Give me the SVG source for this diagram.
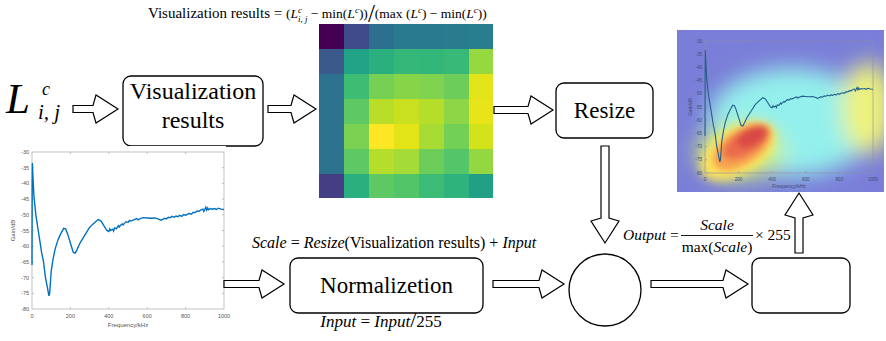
<svg xmlns="http://www.w3.org/2000/svg" width="886" height="341" viewBox="0 0 886 341">
<style>
  .it { font-style: italic; }
  .box { fill: #fff; stroke: #000; stroke-width: 1.3; }
  .arr { fill: #fff; stroke: #000; stroke-width: 1.2; stroke-linejoin: miter; }
  .ax { fill: none; stroke: #a8a8a8; stroke-width: 0.7; }
  .axr { fill: none; stroke: #8c8ca8; stroke-width: 0.6; }
</style>
<defs>
  <path id="curve" vector-effect="non-scaling-stroke" fill="none" d="M0,36 L1,10 L2,3.5 L5,8 L10,14 L20,20 L30,24 L40,28 L50,32 L60,35 L70,40 L80,43 L88,45.8 L92,45 L100,38 L110,34 L120,31 L135,28 L150,26 L165,24.3 L175,24.5 L185,26 L200,29 L215,32 L225,32.2 L235,31 L250,29 L275,26.5 L300,24 L325,22.5 L345,21.5 L360,22 L375,23.5 L390,25 L400,25.3 L405,24.5 L410,25 L420,24.6 L425,25.2 L430,24.2 L440,24.4 L450,23.5 L455,23.9 L460,23.4 L470,22.9 L475,23.2 L480,22.8 L490,22.2 L500,22.4 L508,21.8 L515,22 L530,21.6 L545,21.2 L552,21.6 L560,21.3 L580,20.9 L600,21 L620,21.1 L640,21 L660,21.4 L670,21.7 L680,21.5 L690,21.1 L700,21.3 L710,20.8 L720,20.9 L730,20.5 L740,20.8 L750,20.4 L760,20.6 L770,20.2 L780,20.5 L790,19.9 L800,20.2 L810,19.8 L820,19.6 L830,19.8 L840,19.2 L850,19.3 L860,18.8 L870,18.9 L880,18.4 L890,18.2 L895,18.9 L900,18.3 L905,17.6 L910,18.5 L915,17.8 L920,18.4 L930,18 L940,18.2 L950,18 L960,18.3 L970,17.9 L985,18.2 L1000,18.3"/>
  <filter id="blurBig" x="-50%" y="-50%" width="200%" height="200%"><feGaussianBlur stdDeviation="11"/></filter>
  <filter id="blurMid" x="-50%" y="-50%" width="200%" height="200%"><feGaussianBlur stdDeviation="5"/></filter>
  <filter id="blurSm" x="-50%" y="-50%" width="200%" height="200%"><feGaussianBlur stdDeviation="3"/></filter>
  <clipPath id="clipR"><rect x="677" y="30" width="207" height="162"/></clipPath>
</defs>

<!-- top formula -->
<g id="formula-top" font-family="'Liberation Serif', 'DejaVu Serif', serif" font-size="15" fill="#000">
  <text x="148" y="18">Visualization results = <tspan font-size="13.5">(</tspan><tspan class="it" font-size="13.5">L</tspan><tspan class="it" font-size="9" dy="-5.5">c</tspan><tspan class="it" font-size="9" dx="-4" dy="9">i, j</tspan><tspan font-size="13.5" dy="-3.5"> − min(</tspan><tspan class="it" font-size="13.5">L</tspan><tspan class="it" font-size="9" dy="-5.5">c</tspan><tspan font-size="13.5" dy="5.5">))</tspan><tspan font-size="25" dy="4">/</tspan><tspan font-size="13.5" dy="-4">(max (</tspan><tspan class="it" font-size="13.5">L</tspan><tspan class="it" font-size="9" dy="-5.5">c</tspan><tspan font-size="13.5" dy="5.5">) − min(</tspan><tspan class="it" font-size="13.5">L</tspan><tspan class="it" font-size="9" dy="-5.5">c</tspan><tspan font-size="13.5" dy="5.5">))</tspan></text>
</g>

<!-- input symbol -->
<g id="node-L" font-family="'Liberation Serif', 'DejaVu Serif', serif" fill="#000">
  <text x="6" y="113" class="it" font-size="43">L</text>
  <text x="42" y="95" class="it" font-size="18">c</text>
  <text x="38" y="119" class="it" font-size="21">i, j</text>
</g>

<g id="node-vis">
  <rect class="box" x="123" y="76" width="140" height="70" rx="8"/>
  <text font-family="'Liberation Serif', 'DejaVu Serif', serif" x="193" y="99" font-size="24" text-anchor="middle">Visualization</text>
  <text font-family="'Liberation Serif', 'DejaVu Serif', serif" x="193" y="128" font-size="24" text-anchor="middle">results</text>
</g>

<g id="node-heatmap">
  <g shape-rendering="crispEdges">
    <rect x="319" y="24" width="25" height="25" fill="#440154"/>
    <rect x="344" y="24" width="25" height="25" fill="#3e4a89"/>
    <rect x="369" y="24" width="25" height="25" fill="#2d6f8e"/>
    <rect x="394" y="24" width="25" height="25" fill="#297a8e"/>
    <rect x="419" y="24" width="25" height="25" fill="#297a8e"/>
    <rect x="444" y="24" width="25" height="25" fill="#287c8e"/>
    <rect x="469" y="24" width="24" height="25" fill="#287d8e"/>

    <rect x="319" y="49" width="25" height="25" fill="#3a5a8c"/>
    <rect x="344" y="49" width="25" height="25" fill="#20a386"/>
    <rect x="369" y="49" width="25" height="25" fill="#2ab07f"/>
    <rect x="394" y="49" width="25" height="25" fill="#35b779"/>
    <rect x="419" y="49" width="25" height="25" fill="#32b67a"/>
    <rect x="444" y="49" width="25" height="25" fill="#38b977"/>
    <rect x="469" y="49" width="24" height="25" fill="#95d840"/>

    <rect x="319" y="74" width="25" height="25" fill="#2c728e"/>
    <rect x="344" y="74" width="25" height="25" fill="#3dbc74"/>
    <rect x="369" y="74" width="25" height="25" fill="#75d054"/>
    <rect x="394" y="74" width="25" height="25" fill="#86d549"/>
    <rect x="419" y="74" width="25" height="25" fill="#7fd34e"/>
    <rect x="444" y="74" width="25" height="25" fill="#6ccd5a"/>
    <rect x="469" y="74" width="24" height="25" fill="#e2e418"/>

    <rect x="319" y="99" width="25" height="25" fill="#2c728e"/>
    <rect x="344" y="99" width="25" height="25" fill="#5ec962"/>
    <rect x="369" y="99" width="25" height="25" fill="#b8de29"/>
    <rect x="394" y="99" width="25" height="25" fill="#c8e020"/>
    <rect x="419" y="99" width="25" height="25" fill="#b5de2b"/>
    <rect x="444" y="99" width="25" height="25" fill="#8ed645"/>
    <rect x="469" y="99" width="24" height="25" fill="#e7e419"/>

    <rect x="319" y="124" width="25" height="25" fill="#2c728e"/>
    <rect x="344" y="124" width="25" height="25" fill="#7ad151"/>
    <rect x="369" y="124" width="25" height="25" fill="#fde725"/>
    <rect x="394" y="124" width="25" height="25" fill="#e2e418"/>
    <rect x="419" y="124" width="25" height="25" fill="#a8db34"/>
    <rect x="444" y="124" width="25" height="25" fill="#73d056"/>
    <rect x="469" y="124" width="24" height="25" fill="#d2e21b"/>

    <rect x="319" y="149" width="25" height="25" fill="#2c728e"/>
    <rect x="344" y="149" width="25" height="25" fill="#5ec962"/>
    <rect x="369" y="149" width="25" height="25" fill="#b5de2b"/>
    <rect x="394" y="149" width="25" height="25" fill="#a5db36"/>
    <rect x="419" y="149" width="25" height="25" fill="#6ccd5a"/>
    <rect x="444" y="149" width="25" height="25" fill="#54c568"/>
    <rect x="469" y="149" width="24" height="25" fill="#93d741"/>

    <rect x="319" y="174" width="25" height="24" fill="#443e85"/>
    <rect x="344" y="174" width="25" height="24" fill="#2ab07f"/>
    <rect x="369" y="174" width="25" height="24" fill="#5ec962"/>
    <rect x="394" y="174" width="25" height="24" fill="#52c569"/>
    <rect x="419" y="174" width="25" height="24" fill="#3bbb75"/>
    <rect x="444" y="174" width="25" height="24" fill="#2eb37c"/>
    <rect x="469" y="174" width="24" height="24" fill="#21a085"/>
  </g>
</g>

<g id="node-resize">
  <rect class="box" x="556" y="83" width="97" height="55" rx="8"/>
  <text font-family="'Liberation Serif', 'DejaVu Serif', serif" x="604.5" y="118" font-size="23" text-anchor="middle">Resize</text>
</g>

<!-- left plot -->
<g id="node-plot-input">
  <rect x="0" y="146" width="226" height="188" fill="#fff"/>
  <rect class="ax" x="32" y="152" width="192" height="157"/>
  <path class="ax" d="M32,167.7h2M32,183.4h2M32,199.1h2M32,214.8h2M32,230.5h2M32,246.2h2M32,261.9h2M32,277.6h2M32,293.3h2
                      M224,167.7h-2M224,183.4h-2M224,199.1h-2M224,214.8h-2M224,230.5h-2M224,246.2h-2M224,261.9h-2M224,277.6h-2M224,293.3h-2
                      M70.4,309v-2M108.8,309v-2M147.2,309v-2M185.6,309v-2
                      M70.4,152v2M108.8,152v2M147.2,152v2M185.6,152v2"/>
  <g font-family="'Liberation Sans', Arial, sans-serif" font-size="5.5" fill="#555" text-anchor="end">
    <text x="29" y="154">-30</text><text x="29" y="169.7">-35</text><text x="29" y="185.4">-40</text>
    <text x="29" y="201.1">-45</text><text x="29" y="216.8">-50</text><text x="29" y="232.5">-55</text>
    <text x="29" y="248.2">-60</text><text x="29" y="263.9">-65</text><text x="29" y="279.6">-70</text>
    <text x="29" y="295.3">-75</text><text x="29" y="311">-80</text>
  </g>
  <g font-family="'Liberation Sans', Arial, sans-serif" font-size="5.5" fill="#555" text-anchor="middle">
    <text x="32" y="318">0</text><text x="70.4" y="318">200</text><text x="108.8" y="318">400</text>
    <text x="147.2" y="318">600</text><text x="185.6" y="318">800</text><text x="224" y="318">1000</text>
    <text x="128" y="327" font-size="6">Frequency/kHz</text>
    <text x="0" y="0" font-size="6" transform="translate(15,230.5) rotate(-90)">Gain/dB</text>
  </g>
  <use href="#curve" transform="translate(32,152) scale(0.192,3.14)" stroke="#0072bd" stroke-width="1.4"/>
</g>

<g id="node-norm">
  <rect class="box" x="290" y="258" width="193" height="55" rx="8"/>
  <text font-family="'Liberation Serif', 'DejaVu Serif', serif" x="386.5" y="293" font-size="23" text-anchor="middle">Normalizetion</text>
</g>

<g id="formula-scale" font-family="'Liberation Serif', 'DejaVu Serif', serif" font-size="16" fill="#000">
  <text x="252" y="248"><tspan class="it">Scale</tspan> = <tspan class="it">Resize</tspan>(Visualization results) + <tspan class="it">Input</tspan></text>
</g>
<g id="formula-input" font-family="'Liberation Serif', 'DejaVu Serif', serif" font-size="17" fill="#000">
  <text x="381" y="327" text-anchor="middle"><tspan class="it">Input</tspan> = <tspan class="it">Input</tspan><tspan font-size="22">/</tspan>255</text>
</g>

<g id="node-sum">
  <circle class="box" cx="605" cy="290" r="36"/>
</g>

<g id="node-output">
  <rect class="box" x="752" y="258" width="98" height="55" rx="8"/>
</g>

<g id="formula-output" font-family="'Liberation Serif', 'DejaVu Serif', serif" font-size="15.5" fill="#000">
  <text x="623" y="240"><tspan class="it">Output</tspan> =</text>
  <text x="717" y="230" class="it" text-anchor="middle">Scale</text>
  <line x1="681" y1="235.5" x2="753" y2="235.5" stroke="#000" stroke-width="0.9"/>
  <text x="717" y="252" text-anchor="middle">max(<tspan class="it">Scale</tspan>)</text>
  <text x="755" y="240">× 255</text>
</g>

<!-- right overlay plot -->
<g id="node-plot-output">
  <g clip-path="url(#clipR)">
    <rect x="677" y="30" width="207" height="162" fill="#7a7ed8"/>
    <g filter="url(#blurBig)">
      <ellipse cx="792" cy="122" rx="84" ry="54" fill="#94f0ec"/>
      <ellipse cx="868" cy="108" rx="26" ry="46" fill="#eef27a"/>
      <ellipse cx="740" cy="152" rx="44" ry="27" fill="#d0f078"/>
    </g>
    <g filter="url(#blurMid)">
      <ellipse cx="738" cy="151" rx="42" ry="23" transform="rotate(-32 738 151)" fill="#fbe25c"/>
    </g>
    <g filter="url(#blurSm)">
      <ellipse cx="742" cy="147" rx="33" ry="17" transform="rotate(-34 742 147)" fill="#f6a050"/>
      <ellipse cx="746" cy="142" rx="26" ry="12" transform="rotate(-32 746 142)" fill="#ea6a4c"/>
      <ellipse cx="752" cy="137" rx="16" ry="8.5" transform="rotate(-25 752 137)" fill="#d94844"/>
    </g>
  </g>
  <rect class="axr" x="705" y="41" width="168" height="132"/>
  <path class="axr" d="M705,54.2h2M705,67.4h2M705,80.6h2M705,93.8h2M705,107h2M705,120.2h2M705,133.4h2M705,146.6h2M705,159.8h2
                       M738.6,173v-2M772.2,173v-2M805.8,173v-2M839.4,173v-2M738.6,41v2M772.2,41v2M805.8,41v2M839.4,41v2"/>
  <g font-family="'Liberation Sans', Arial, sans-serif" font-size="4.6" fill="#444a70" text-anchor="end">
    <text x="702" y="42.6">-30</text><text x="702" y="55.8">-35</text><text x="702" y="69">-40</text>
    <text x="702" y="82.2">-45</text><text x="702" y="95.4">-50</text><text x="702" y="108.6">-55</text>
    <text x="702" y="121.8">-60</text><text x="702" y="135">-65</text><text x="702" y="148.2">-70</text>
    <text x="702" y="161.4">-75</text><text x="702" y="174.6">-80</text>
  </g>
  <g font-family="'Liberation Sans', Arial, sans-serif" font-size="4.6" fill="#444a70" text-anchor="middle">
    <text x="705" y="180.5">0</text><text x="738.6" y="180.5">200</text><text x="772.2" y="180.5">400</text>
    <text x="805.8" y="180.5">600</text><text x="839.4" y="180.5">800</text><text x="873" y="180.5">1000</text>
    <text x="789" y="188" font-size="5">Frequency/kHz</text>
    <text x="0" y="0" font-size="5" transform="translate(692,107) rotate(-90)">Gain/dB</text>
  </g>
  <use href="#curve" transform="translate(705,41) scale(0.168,2.64)" stroke="#235f8c" stroke-width="1.1"/>
</g>

<!-- connectors -->
<g id="connectors">
  <polygon class="arr" points="73,105.5 93,105.5 96,95 118,109 96,123 93,112.5 73,112.5"/>
  <polygon class="arr" points="268,105.5 291,105.5 294,95 316,109 294,123 291,112.5 268,112.5"/>
  <polygon class="arr" points="494,106.5 528,106.5 531,96 553,110 531,124 528,113.5 494,113.5"/>
  <polygon class="arr" points="601,146 609,146 609,218 619,221 605,243 591,221 601,218"/>
  <polygon class="arr" points="224,280.5 259,280.5 262,270 284,284 262,298 259,287.5 224,287.5"/>
  <polygon class="arr" points="493,280.5 539,280.5 542,270 564,284 542,298 539,287.5 493,287.5"/>
  <polygon class="arr" points="651,280.5 723,280.5 726,270 748,284 726,298 723,287.5 651,287.5"/>
  <polygon class="arr" points="795,253 795,218 785,215 799,193 813,215 803,218 803,253"/>
</g>
</svg>
